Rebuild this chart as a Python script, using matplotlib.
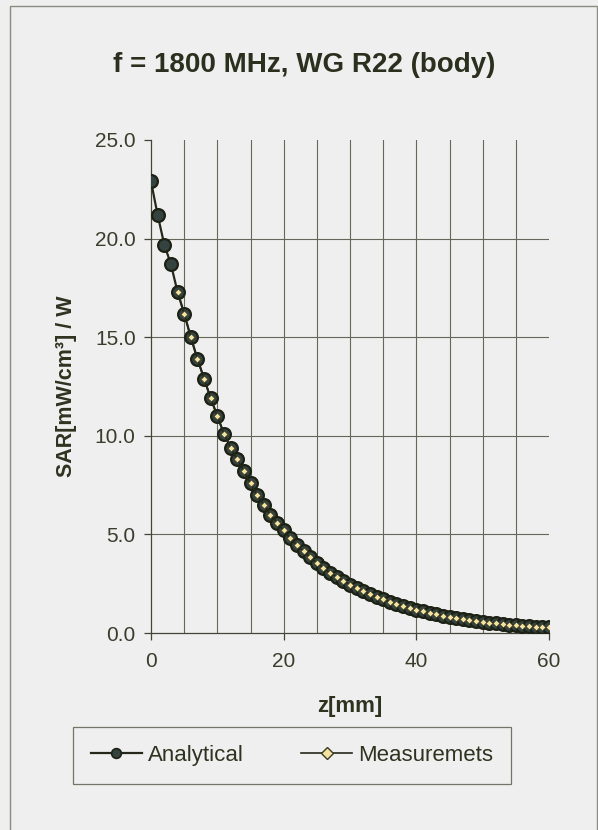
import numpy as np
import matplotlib
matplotlib.use("Agg")
import matplotlib.pyplot as plt
from matplotlib.patches import Rectangle

plt.rcParams['font.family'] = ['Liberation Sans', 'DejaVu Sans']

# SAR depth profile, 1 mm steps
z_analytical = list(range(0, 61))
sar_analytical = [22.9, 21.2, 19.7, 18.7, 17.3, 16.2, 15.0, 13.9, 12.9, 11.9,
                  11.0, 10.1, 9.4, 8.8, 8.2, 7.6, 7.0, 6.5, 6.0, 5.6,
                  5.2, 4.8, 4.45, 4.15, 3.85, 3.55, 3.3, 3.05, 2.85, 2.65,
                  2.45, 2.28, 2.12, 1.97, 1.83, 1.7, 1.58, 1.47, 1.37, 1.27,
                  1.18, 1.1, 1.02, 0.95, 0.88, 0.82, 0.76, 0.71, 0.66, 0.61,
                  0.57, 0.53, 0.49, 0.46, 0.43, 0.40, 0.37, 0.34, 0.32, 0.30,
                  0.28]

z_meas = list(range(4, 61))
sar_meas = [17.3, 16.2, 15.0, 13.9, 12.9, 11.9,
            11.0, 10.1, 9.4, 8.8, 8.2, 7.6, 7.0, 6.5, 6.0, 5.6,
            5.2, 4.8, 4.45, 4.15, 3.85, 3.55, 3.3, 3.05, 2.85, 2.65,
            2.45, 2.28, 2.12, 1.97, 1.83, 1.7, 1.58, 1.47, 1.37, 1.27,
            1.18, 1.1, 1.02, 0.95, 0.88, 0.82, 0.76, 0.71, 0.66, 0.61,
            0.57, 0.53, 0.49, 0.46, 0.43, 0.40, 0.37, 0.34, 0.32, 0.30,
            0.28]

x_ticks = [0, 20, 40, 60]
y_ticks = [0.0, 5.0, 10.0, 15.0, 20.0, 25.0]
x_grid = [5, 10, 15, 20, 25, 30, 35, 40, 45, 50, 55]
y_grid = [5.0, 10.0, 15.0, 20.0]

bg = '#efefef'
ink = '#2e3320'
grid_col = '#66665a'

W, H = 598, 830
fig = plt.figure(figsize=(W / 100, H / 100), dpi=100, facecolor=bg)
ax = fig.add_axes([151 / W, 1 - 633 / H, 398 / W, 493 / H], facecolor=bg)

# outer chart frame
fig.patches.append(Rectangle((10 / W, -0.02), 586.5 / W, 1.02 - 6 / H,
                             transform=fig.transFigure, fill=False,
                             edgecolor='#8a8a80', lw=1.0))

for xv in x_grid:
    ax.axvline(xv, color=grid_col, lw=0.8, zorder=1)
for yv in y_grid:
    ax.axhline(yv, color=grid_col, lw=0.8, zorder=1)

ax.plot(z_analytical, sar_analytical, '-o', color='#23281a', lw=1.6,
        markersize=9.2, markerfacecolor='#34433f', markeredgecolor='#1c2114',
        markeredgewidth=1.6, label='Analytical', zorder=3)
ax.plot(z_meas, sar_meas, '-D', color='#23281a', lw=1.2,
        markersize=3.4, markerfacecolor='#f4e3a0', markeredgecolor='#3a3a22',
        markeredgewidth=0.4, label='Measuremets', zorder=4)

ax.set_xlim(0, 60)
ax.set_ylim(0, 25)
ax.set_xticks(x_ticks)
ax.set_yticks(y_ticks)
ax.set_yticklabels([f'{v:.1f}' for v in y_ticks])
ax.tick_params(direction='out', length=5, width=0.9, color='#444438',
               labelsize=15, labelcolor='#3a3d2c')
ax.tick_params(axis='x', pad=9)
ax.tick_params(axis='y', pad=6)
for side in ('top', 'right'):
    ax.spines[side].set_visible(False)
for side in ('left', 'bottom'):
    ax.spines[side].set_color('#444438')
    ax.spines[side].set_linewidth(0.9)

ax.set_xlabel('z[mm]', fontsize=16, fontweight='bold', color=ink, labelpad=18)
ax.set_ylabel('SAR[mW/cm³] / W', fontsize=15.5, fontweight='bold', color=ink,
              labelpad=13)

fig.text(304 / W, 1 - 65 / H, 'f = 1800 MHz, WG R22 (body)', ha='center',
         va='center', fontsize=20, fontweight='bold', color='#2b2f1e')

leg = fig.legend(loc='center', ncol=2, mode='expand',
                 bbox_to_anchor=(73 / W, 1 - 783 / H, 438 / W, 55 / H),
                 fontsize=16, frameon=True, fancybox=False, handlelength=2.3,
                 handletextpad=0.27, columnspacing=2.1, borderpad=0.8,
                 borderaxespad=0)
leg.get_frame().set_edgecolor('#555548')
leg.get_frame().set_linewidth(0.9)
leg.get_frame().set_facecolor(bg)
for t in leg.get_texts():
    t.set_color(ink)
handles = leg.legend_handles
handles[0].set_markersize(7)
handles[0].set_markeredgewidth(1.2)
handles[1].set_markersize(6)
handles[1].set_markeredgewidth(1.0)

fig.savefig('out.png', dpi=100, facecolor=bg)
